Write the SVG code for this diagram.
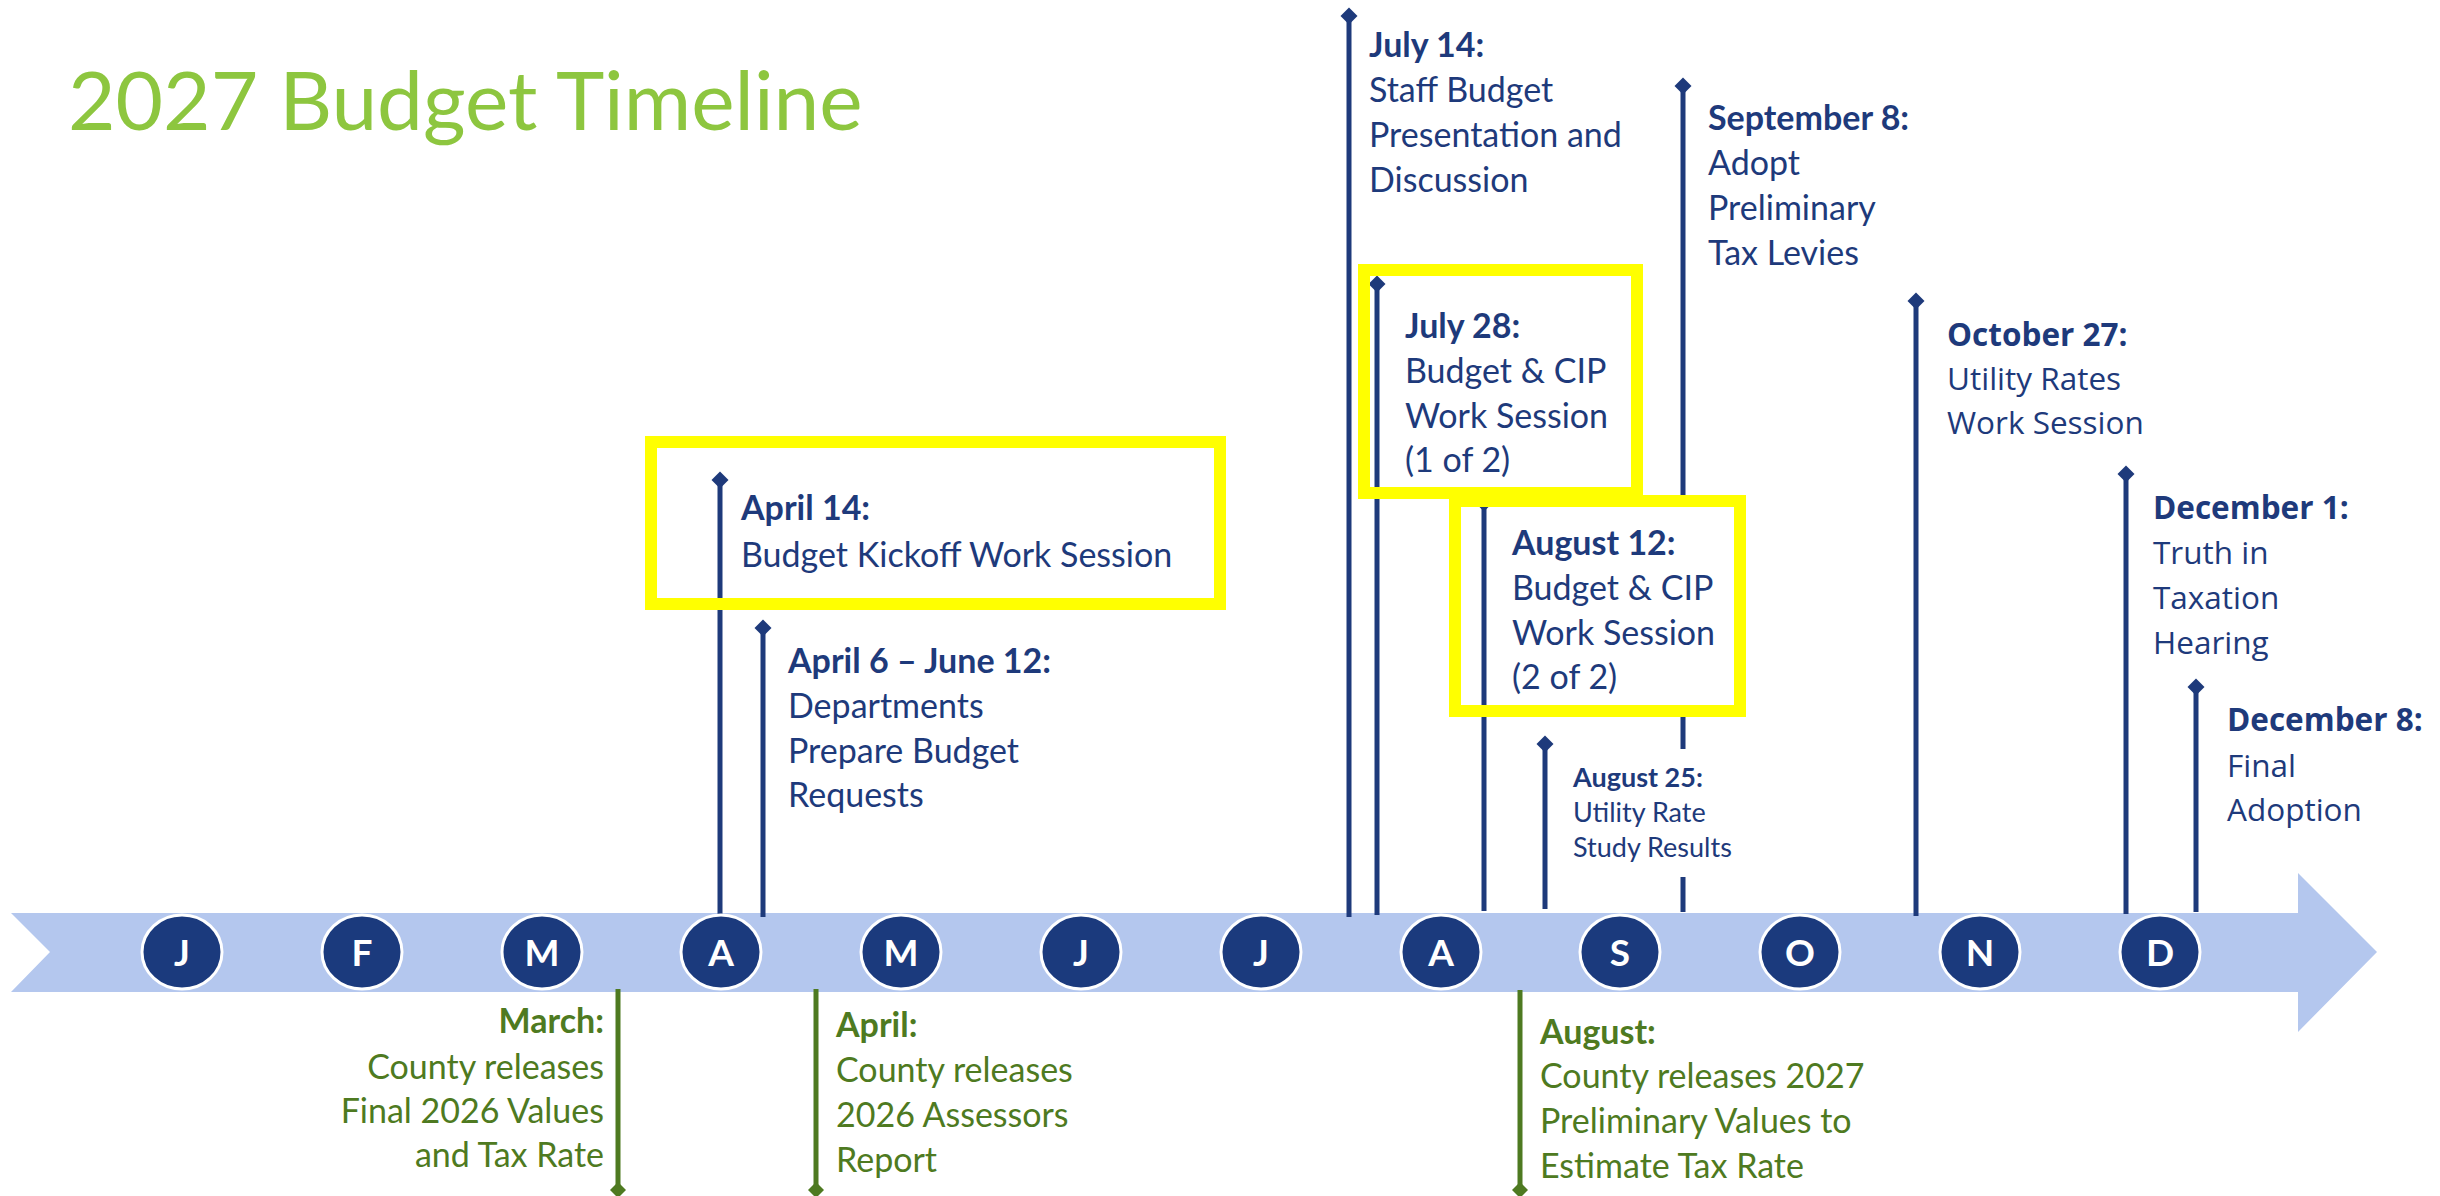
<svg xmlns="http://www.w3.org/2000/svg" width="2440" height="1196" viewBox="0 0 2440 1196">
  <defs>
    <style>
      .title { font-family: Lato, "Liberation Sans", sans-serif; font-size: 82px; fill: #8DC63F; }
      .band { fill: #B4C7EE; }
      .month ellipse { fill: #1B3A7D; stroke: #FFFFFF; stroke-width: 3; }
      .month text { font-family: Lato, "Liberation Sans", sans-serif; font-weight: 700; font-size: 37px; fill: #FFFFFF; text-anchor: middle; }
      .stem { stroke: #1E3A7B; stroke-width: 5; fill: none; }
      .stem-g { stroke: #4E7A21; stroke-width: 5; fill: none; }
      .lbl { font-family: Lato, "Liberation Sans", sans-serif; font-size: 34px; fill: #1E3A7B; }
      .lbl-s { font-family: Lato, "Liberation Sans", sans-serif; font-size: 27px; fill: #1E3A7B; }
      .lbl-w { font-family: "Open Sans", "DejaVu Sans", sans-serif; font-size: 31.5px; fill: #1E3A7B; }
      .lbl-g { font-family: Lato, "Liberation Sans", sans-serif; font-size: 34px; fill: #4E7A21; }
      .b { font-weight: 700; }
      .hl { fill: none; stroke: #FFFF00; stroke-width: 12; }
    </style>
    <marker id="dia" viewBox="-10 -10 20 20" markerWidth="20" markerHeight="20" markerUnits="userSpaceOnUse" orient="auto">
      <path d="M0,-8.5 L8.5,0 L0,8.5 L-8.5,0 Z" fill="#1E3A7B"/>
    </marker>
    <marker id="dia-g" viewBox="-10 -10 20 20" markerWidth="20" markerHeight="20" markerUnits="userSpaceOnUse" orient="auto">
      <path d="M0,-8 L8,0 L0,8 L-8,0 Z" fill="#4E7A21"/>
    </marker>
  </defs>

  <rect width="2440" height="1196" fill="#FFFFFF"/>

  <text id="title" class="title" x="68" y="130">2027 Budget Timeline</text>

  <!-- timeline arrow -->
  <polygon id="timeline-band" class="band" points="11,913 2298,913 2298,873 2377,952 2298,1032 2298,992 11,992 50,952"/>

  <!-- event stems -->
  <g id="connectors">
    <path class="stem" marker-start="url(#dia)" d="M720,480 V917"/>
    <path class="stem" marker-start="url(#dia)" d="M763,628 V917"/>
    <path class="stem" marker-start="url(#dia)" d="M1349,16 V917"/>
    <path class="stem" marker-start="url(#dia)" d="M1377,284 V915"/>
    <path class="stem" marker-start="url(#dia)" d="M1484,503 V911"/>
    <path class="stem" marker-start="url(#dia)" d="M1545,744 V909"/>
    <path class="stem" marker-start="url(#dia)" d="M1683,86 V507 M1683,717 V749 M1683,877 V912"/>
    <path class="stem" marker-start="url(#dia)" d="M1916,301 V916"/>
    <path class="stem" marker-start="url(#dia)" d="M2126,474 V914"/>
    <path class="stem" marker-start="url(#dia)" d="M2196,687 V912"/>
    <path class="stem-g" marker-end="url(#dia-g)" d="M618,989 V1190"/>
    <path class="stem-g" marker-end="url(#dia-g)" d="M816,989 V1190"/>
    <path class="stem-g" marker-end="url(#dia-g)" d="M1520,990 V1190"/>
  </g>

  <!-- month markers -->
  <g id="months" class="month">
    <g id="m-jan"><ellipse cx="182" cy="952" rx="40" ry="37"/><text x="182" y="966">J</text></g>
    <g id="m-feb"><ellipse cx="362" cy="952" rx="40" ry="37"/><text x="362" y="966">F</text></g>
    <g id="m-mar"><ellipse cx="542" cy="952" rx="40" ry="37"/><text x="542" y="966">M</text></g>
    <g id="m-apr"><ellipse cx="721" cy="952" rx="40" ry="37"/><text x="721" y="966">A</text></g>
    <g id="m-may"><ellipse cx="901" cy="952" rx="40" ry="37"/><text x="901" y="966">M</text></g>
    <g id="m-jun"><ellipse cx="1081" cy="952" rx="40" ry="37"/><text x="1081" y="966">J</text></g>
    <g id="m-jul"><ellipse cx="1261" cy="952" rx="40" ry="37"/><text x="1261" y="966">J</text></g>
    <g id="m-aug"><ellipse cx="1441" cy="952" rx="40" ry="37"/><text x="1441" y="966">A</text></g>
    <g id="m-sep"><ellipse cx="1620" cy="952" rx="40" ry="37"/><text x="1620" y="966">S</text></g>
    <g id="m-oct"><ellipse cx="1800" cy="952" rx="40" ry="37"/><text x="1800" y="966">O</text></g>
    <g id="m-nov"><ellipse cx="1980" cy="952" rx="40" ry="37"/><text x="1980" y="966">N</text></g>
    <g id="m-dec"><ellipse cx="2160" cy="952" rx="40" ry="37"/><text x="2160" y="966">D</text></g>
  </g>

  <!-- city events (above the timeline) -->
  <g id="ev-apr14">
    <text class="lbl"><tspan class="b" x="741" y="520">April 14:</tspan><tspan x="741" y="567">Budget Kickoff Work Session</tspan></text>
  </g>
  <g id="ev-apr6-jun12">
    <text class="lbl"><tspan class="b" x="788" y="673">April 6 – June 12:</tspan><tspan x="788" y="718">Departments</tspan><tspan x="788" y="763">Prepare Budget</tspan><tspan x="788" y="807">Requests</tspan></text>
  </g>
  <g id="ev-jul14">
    <text class="lbl"><tspan class="b" x="1369" y="57">July 14:</tspan><tspan x="1369" y="102">Staff Budget</tspan><tspan x="1369" y="147">Presentation and</tspan><tspan x="1369" y="192">Discussion</tspan></text>
  </g>
  <g id="ev-jul28">
    <text class="lbl"><tspan class="b" x="1405" y="338">July 28:</tspan><tspan x="1405" y="383">Budget &amp; CIP</tspan><tspan x="1405" y="428">Work Session</tspan><tspan x="1405" y="472">(1 of 2)</tspan></text>
  </g>
  <g id="ev-aug12">
    <text class="lbl"><tspan class="b" x="1512" y="555">August 12:</tspan><tspan x="1512" y="600">Budget &amp; CIP</tspan><tspan x="1512" y="645">Work Session</tspan><tspan x="1512" y="689">(2 of 2)</tspan></text>
  </g>
  <g id="ev-aug25">
    <text class="lbl-s"><tspan class="b" x="1573" y="787">August 25:</tspan><tspan x="1573" y="822">Utility Rate</tspan><tspan x="1573" y="857">Study Results</tspan></text>
  </g>
  <g id="ev-sep8">
    <text class="lbl"><tspan class="b" x="1708" y="130">September 8:</tspan><tspan x="1708" y="175">Adopt</tspan><tspan x="1708" y="220">Preliminary</tspan><tspan x="1708" y="265">Tax Levies</tspan></text>
  </g>
  <g id="ev-oct27">
    <text class="lbl-w"><tspan class="b" x="1947" y="346">October 27:</tspan><tspan x="1947" y="390">Utility Rates</tspan><tspan x="1947" y="434">Work Session</tspan></text>
  </g>
  <g id="ev-dec1">
    <text class="lbl-w"><tspan class="b" x="2153" y="519">December 1:</tspan><tspan x="2153" y="564">Truth in</tspan><tspan x="2153" y="609">Taxation</tspan><tspan x="2153" y="654">Hearing</tspan></text>
  </g>
  <g id="ev-dec8">
    <text class="lbl-w"><tspan class="b" x="2227" y="731">December 8:</tspan><tspan x="2227" y="777">Final</tspan><tspan x="2227" y="821">Adoption</tspan></text>
  </g>

  <!-- county events (below the timeline) -->
  <g id="ev-march">
    <text class="lbl-g" text-anchor="end"><tspan class="b" x="604" y="1033">March:</tspan><tspan x="604" y="1079">County releases</tspan><tspan x="604" y="1123">Final 2026 Values</tspan><tspan x="604" y="1167">and Tax Rate</tspan></text>
  </g>
  <g id="ev-april">
    <text class="lbl-g"><tspan class="b" x="836" y="1037">April:</tspan><tspan x="836" y="1082">County releases</tspan><tspan x="836" y="1127">2026 Assessors</tspan><tspan x="836" y="1172">Report</tspan></text>
  </g>
  <g id="ev-august">
    <text class="lbl-g"><tspan class="b" x="1540" y="1044">August:</tspan><tspan x="1540" y="1088">County releases 2027</tspan><tspan x="1540" y="1133">Preliminary Values to</tspan><tspan x="1540" y="1178">Estimate Tax Rate</tspan></text>
  </g>

  <!-- highlighted work sessions -->
  <g id="highlights">
    <rect id="hl-apr14" class="hl" x="651" y="442" width="569" height="162"/>
    <rect id="hl-jul28" class="hl" x="1364" y="270" width="273" height="223"/>
    <rect id="hl-aug12" class="hl" x="1455" y="501" width="285" height="210"/>
  </g>
</svg>
